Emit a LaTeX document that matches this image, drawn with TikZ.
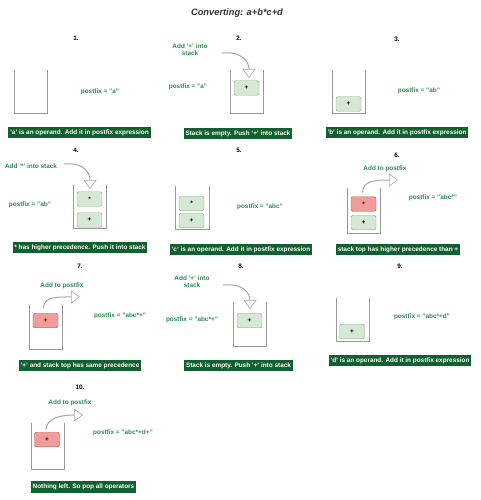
\documentclass[tikz,border=0pt]{standalone}
\usepackage{fontspec}
\setmainfont{Liberation Sans}
\usetikzlibrary{arrows.meta,positioning}
\definecolor{notegreen}{HTML}{2E8B57}
\definecolor{bannergreen}{HTML}{11602F}
\definecolor{opfill}{HTML}{D5E8D4}
\definecolor{opline}{HTML}{8FA88C}
\definecolor{popfill}{HTML}{F19C99}
\definecolor{popline}{HTML}{B85450}
\newcommand{\tinyfont}{\fontsize{6.4}{7.2}\selectfont}
\tikzset{
    stackline/.style={draw=gray!80, line width=0.7pt},
    opbox/.style={draw=opline, fill=opfill, rounded corners=1.5pt, minimum width=25pt, minimum height=14.5pt, inner sep=0pt, font=\tinyfont\bfseries},
    popbox/.style={opbox, draw=popline, fill=popfill},
    banner/.style={fill=bannergreen, text=white, font=\tinyfont\bfseries, inner xsep=1.8pt, inner ysep=2pt, minimum height=11.5pt},
    note/.style={text=notegreen, font=\tinyfont\bfseries, align=center, inner sep=0pt},
    stepnum/.style={font=\tinyfont\bfseries, inner sep=0pt},
    movearrow/.style={draw=gray!70, line width=1pt, -{Triangle[width=13pt, length=9pt, fill=white, line width=0.6pt]}}
}
\begin{document}
\begin{tikzpicture}[x=1pt, y=-1pt]
    \useasboundingbox (0,0) rectangle (481,500);
    \node[font=\fontsize{9.3}{11}\selectfont\bfseries\itshape, text=black!80] (title) at (237,13) {Converting: a+b*c+d};

    % 1.
    \node[stepnum] (n1) at (76,38) {1.};
    \draw[stackline] (14,70) |- (47,113) -- (47,70);
    \node[note] (pf1) at (100,92) {postfix = "a"};
    \node[banner] (m1) at (79.5,132.5) {'a' is an operand. Add it in postfix expression};

    % 2.
    \node[stepnum] (n2) at (239,38) {2.};
    \draw[stackline] (230,70) |- (263,113) -- (263,70);
    \node[opbox] (b2) at (246.5,88) {+};
    \node[note] (add2) at (190,50) {Add '+' into\\stack};
    \node[note] (pf2) at (188,87) {postfix = "a"};
    \coordinate (s2) at (222,53);
    \coordinate (t2) at (249,78);
    \draw[movearrow] (s2) .. controls +(20,-2) and +(0,-16) .. (t2);
    \node[banner] (m2) at (238,133.5) {Stack is empty. Push '+' into stack};

    % 3.
    \node[stepnum] (n3) at (397,39) {3.};
    \draw[stackline] (332,70) |- (365,113) -- (365,70);
    \node[opbox] (b3) at (348.5,104) {+};
    \node[note] (pf3) at (419,91) {postfix = "ab"};
    \node[banner] (m3) at (397,132.5) {'b' is an operand. Add it in postfix expression};

    % 4.
    \node[stepnum] (n4) at (76,150) {4.};
    \draw[stackline] (73,185) |- (106,228) -- (106,185);
    \node[opbox] (b4t) at (89.5,199) {*};
    \node[opbox] (b4b) at (89.5,220) {+};
    \node[note] (add4) at (31,166) {Add '*' into stack};
    \node[note] (pf4) at (30,205) {postfix = "ab"};
    \coordinate (s4) at (64,164);
    \coordinate (t4) at (90,189);
    \draw[movearrow] (s4) .. controls +(20,-2) and +(0,-16) .. (t4);
    \node[banner] (m4) at (80,247.5) {* has higher precedence. Push it into stack};

    % 5.
    \node[stepnum] (n5) at (239,150) {5.};
    \draw[stackline] (175,186) |- (209,229) -- (209,186);
    \node[opbox] (b5t) at (191.5,203.5) {*};
    \node[opbox] (b5b) at (191.5,220.5) {+};
    \node[note] (pf5) at (260,207) {postfix = "abc"};
    \node[banner] (m5) at (241,249.5) {'c' is an operand. Add it in postfix expression};

    % 6.
    \node[stepnum] (n6) at (397,155) {6.};
    \draw[stackline] (347,188) |- (380,233) -- (380,188);
    \node[popbox] (r6) at (363.5,204) {*};
    \node[opbox] (b6) at (363.5,222.5) {+};
    \node[note] (add6) at (385,169) {Add to postfix};
    \node[note] (pf6) at (433,198) {postfix = "abc*"};
    \coordinate (t6) at (398,180);
    \draw[movearrow] ([xshift=-1pt, yshift=4pt]r6.north) .. controls +(0,-12) and +(-22,0) .. (t6);
    \node[banner] (m6) at (398,249.5) {stack top has higher precedence than +};

    % 7.
    \node[stepnum] (n7) at (80,266) {7.};
    \draw[stackline] (29,305) |- (62,349) -- (62,305);
    \node[popbox] (r7) at (45.5,320.5) {+};
    \node[note] (add7) at (62,286) {Add to postfix};
    \node[note] (pf7) at (120,316) {postfix = "abc*+"};
    \coordinate (t7) at (80,297);
    \draw[movearrow] ([xshift=-2pt, yshift=5pt]r7.north) .. controls +(0,-12) and +(-22,0) .. (t7);
    \node[banner] (m7) at (80,365.5) {'+' and stack top has same precedence};

    % 8.
    \node[stepnum] (n8) at (241,266) {8.};
    \draw[stackline] (233,302) |- (266,346) -- (266,302);
    \node[opbox] (b8) at (249.5,320.5) {+};
    \node[note] (add8) at (192,282) {Add '+' into\\stack};
    \node[note] (pf8) at (192,320) {postfix = "abc*+"};
    \coordinate (s8) at (223,285);
    \coordinate (t8) at (250,309);
    \draw[movearrow] (s8) .. controls +(20,-2) and +(0,-16) .. (t8);
    \node[banner] (m8) at (238.5,365.5) {Stack is empty. Push '+' into stack};

    % 9.
    \node[stepnum] (n9) at (400,266) {9.};
    \draw[stackline] (336,298) |- (369,341) -- (369,298);
    \node[opbox] (b9) at (352,331.5) {+};
    \node[note] (pf9) at (422,317) {postfix = "abc*+d"};
    \node[banner] (m9) at (400,360.5) {'d' is an operand. Add it in postfix expression};

    % 10.
    \node[stepnum] (n10) at (80,387) {10.};
    \draw[stackline] (31,423) |- (64,469) -- (64,423);
    \node[popbox] (r10) at (47,439.5) {+};
    \node[note] (add10) at (70,403) {Add to postfix};
    \node[note] (pf10) at (123,433) {postfix = "abc*+d+"};
    \coordinate (t10) at (83,415);
    \draw[movearrow] ([xshift=-1pt, yshift=2pt]r10.north) .. controls +(0,-12) and +(-22,0) .. (t10);
    \node[banner] (m10) at (83.5,487) {Nothing left. So pop all operators};
\end{tikzpicture}
\end{document}
